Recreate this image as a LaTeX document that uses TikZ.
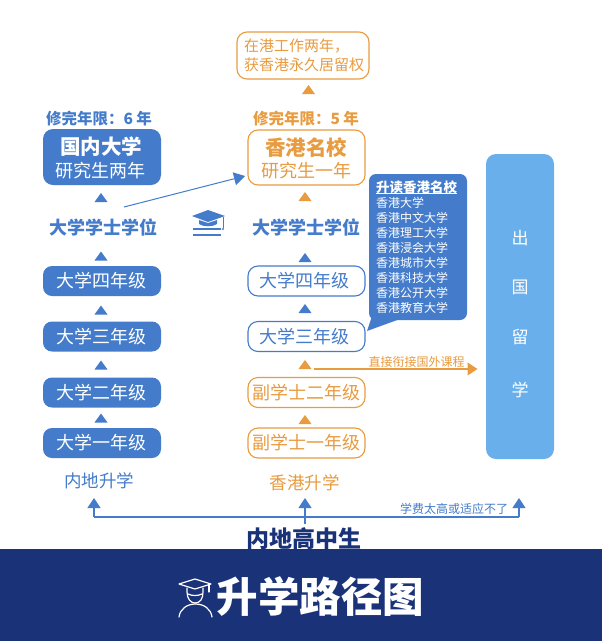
\documentclass[tikz,border=0pt]{standalone}
\usepackage{fontspec}
\setmainfont{Noto Sans CJK SC}
\definecolor{cblue}{HTML}{447CCB}
\definecolor{corange}{HTML}{E99B3F}
\definecolor{cnavy}{HTML}{1A3278}
\definecolor{csky}{HTML}{69AFEB}
\newcommand{\fs}[1]{\fontsize{#1}{#1}\selectfont}
\usetikzlibrary{arrows.meta}
\tikzset{
  every node/.style={inner sep=0pt,outer sep=0pt},
  filledbox/.style={fill=cblue,rounded corners=9pt,minimum width=118pt,minimum height=30pt},
  filledtext/.style={text=white,font=\fs{18}},
  outlinebox/.style={draw=cblue,line width=1.1pt,fill=white,rounded corners=10pt,minimum width=117pt,minimum height=30pt},
  orangebox/.style={draw=corange,line width=1.1pt,fill=white,rounded corners=10pt,minimum width=117pt,minimum height=30pt},
  bluetext/.style={text=cblue,font=\fs{18}},
  orangetext/.style={text=corange,font=\fs{18}},
  headblue/.style={text=cblue,font=\fs{18}\bfseries},
  limitlabel/.style={font=\fs{15.5}\bfseries},
  tri/.pic={\fill[pic actions] (-6.5,4.5) -- (0,-4.5) -- (6.5,4.5) -- cycle;},
  blueline/.style={draw=cblue,line width=1.3pt},
  flatarrow/.style={-{Triangle[width=13pt,length=10pt]}},
  listitem/.style={anchor=west,text=white,font=\fs{12}},
  wordsky/.style={text=white,font=\fs{17}}
}
\begin{document}
\begin{tikzpicture}[x=1pt,y=-1pt]
\useasboundingbox (0,0) rectangle (602,641);
\fill[white] (0,0) rectangle (602,641);

% title text behind the band
\node[text=cnavy,font=\fs{23}\bfseries] (gz) at (303.5,539) {内地高中生};
\fill[cnavy] (0,549) rectangle (602,641);
\node[text=white,font=\fs{41.5}\bfseries] (title) at (320.5,596.5) {升学路径图};

% student icon
\begin{scope}[draw=white,line width=1.2pt,line cap=round,line join=round]
  \draw (179,584) -- (195,579) -- (211,584) -- (195,589) -- cycle;
  \draw (209,585) -- (209,592);
  \draw (187,588) -- (187,592) .. controls (187,599) and (191,603) .. (195,603) .. controls (200,603) and (203,599) .. (203,592) -- (203,588);
  \draw (188,594) .. controls (192,596) and (198,596) .. (202,594);
  \draw (179,617) .. controls (180,609) and (187,604) .. (195.5,604) .. controls (204,604) and (211,609) .. (212,617);
\end{scope}

% left column
\node[limitlabel,text=cblue] (llimit) at (99,119) {修完年限：6 年};
\node[fill=cblue,rounded corners=10pt,minimum width=118pt,minimum height=56pt] (lgrad) at (102,157) {};
\node[text=white,font=\fs{20.5}\bfseries] (lgrad1) at (101,147) {国内大学};
\node[text=white,font=\fs{18}] (lgrad2) at (101,171) {研究生两年};
\node[headblue] (ldeg) at (103,227) {大学学士学位};
\node[filledbox] (l4) at (102,281) {};
\node[filledtext] (l4t) at (101.5,281) {大学四年级};
\node[filledbox] (l3) at (102,336.5) {};
\node[filledtext] (l3t) at (101.5,336.5) {大学三年级};
\node[filledbox] (l2) at (102,392.5) {};
\node[filledtext] (l2t) at (101.5,392.5) {大学二年级};
\node[filledbox] (l1) at (102,443) {};
\node[filledtext] (l1t) at (101.5,443) {大学一年级};
\node[text=cblue,font=\fs{17.5}] (lroute) at (99,481) {内地升学};
\pic[fill=cblue] at (101,197.5) {tri};
\pic[fill=cblue] at (101,256) {tri};
\pic[fill=cblue] at (101,310) {tri};
\pic[fill=cblue] at (101,365) {tri};
\pic[fill=cblue] at (101,418) {tri};

% middle column
\node[orangebox,minimum width=132pt,minimum height=47pt] (pr) at (303,55.5) {};
\node[anchor=west,text=corange,font=\fs{15}] (pr1) at (244,46) {在港工作两年，};
\node[text=corange,font=\fs{15}] (pr2) at (304,65) {获香港永久居留权};
\node[limitlabel,text=corange] (rlimit) at (306,119) {修完年限：5 年};
\node[orangebox,minimum height=55pt,minimum width=117pt] (rgrad) at (306.5,157.5) {};
\node[text=corange,font=\fs{20.5}\bfseries] (rgrad1) at (306,148) {香港名校};
\node[text=corange,font=\fs{18}] (rgrad2) at (306,171) {研究生一年};
\node[headblue] (rdeg) at (306,227) {大学学士学位};
\node[outlinebox] (r4) at (306.5,281) {};
\node[bluetext] (r4t) at (304,281) {大学四年级};
\node[outlinebox] (r3) at (306.5,336.5) {};
\node[bluetext] (r3t) at (304,336.5) {大学三年级};
\node[orangebox] (a2) at (306.5,392.5) {};
\node[orangetext] (a2t) at (306,392.5) {副学士二年级};
\node[orangebox] (a1) at (306.5,443) {};
\node[orangetext] (a1t) at (306,443) {副学士一年级};
\node[text=corange,font=\fs{17.5}] (rroute) at (304.5,483) {香港升学};
\pic[fill=corange] at (308.5,89.5) {tri};
\pic[fill=corange] at (305,196.5) {tri};
\pic[fill=cblue] at (305,257.5) {tri};
\pic[fill=cblue] at (305,308.5) {tri};
\pic[fill=corange] at (305,364.5) {tri};
\pic[fill=corange] at (305,419.5) {tri};

% callout
\fill[cblue] (372,316) -- (367,331) -- (400,319) -- cycle;
\node[fill=cblue,rounded corners=7pt,minimum width=98pt,minimum height=146pt] (call) at (418,247) {};
\node[anchor=west,text=white,font=\fs{13.5}\bfseries] (callhead) at (376,187.5) {升读香港名校};
\draw[white,line width=.9pt] (376,193.8) -- (457,193.8);
\node[listitem] (u1) at (376,203) {香港大学};
\node[listitem] (u2) at (376,218) {香港中文大学};
\node[listitem] (u3) at (376,233) {香港理工大学};
\node[listitem] (u4) at (376,248) {香港浸会大学};
\node[listitem] (u5) at (376,263) {香港城市大学};
\node[listitem] (u6) at (376,278) {香港科技大学};
\node[listitem] (u7) at (376,293) {香港公开大学};
\node[listitem] (u8) at (376,308) {香港教育大学};

% abroad column
\node[fill=csky,rounded corners=10pt,minimum width=68pt,minimum height=305pt] (abroad) at (520,306.5) {};
\node[wordsky] (w1) at (520,238) {出};
\node[wordsky] (w2) at (520,287) {国};
\node[wordsky] (w3) at (520,337) {留};
\node[wordsky] (w4) at (520,390) {学};

% orange connector to abroad
\coordinate (ostart) at (314,369);
\coordinate (oend) at (477.5,369);
\draw[corange,line width=1.2pt,flatarrow] (ostart) -- (oend);
\node[text=corange,font=\fs{12}] (olabel) at (416.5,362) {直接衔接国外课程};

% diagonal connector
\coordinate (dstart) at (124,207);
\coordinate (dend) at (245,176);
\draw[cblue,line width=1pt,-{Triangle[width=13pt,length=11pt]}] (dstart) -- (dend);

% cap icon
\fill[cblue] (192,216) -- (208,210) -- (225,216) -- (208,222) -- cycle;
\fill[cblue] (199,220) -- (208,223) -- (217,220) -- (217,224) .. controls (213,227) and (203,227) .. (199,224) -- cycle;
\draw[cblue,line width=.7pt] (223,217) -- (223,228);
\fill[cblue] (223,229) circle (1.2pt);
\draw[cblue,line width=1.1pt] (193,229) -- (221,229) (193,235) -- (221,235);

% bottom connectors
\coordinate (bl) at (94,498);
\coordinate (bm) at (305,498);
\coordinate (br) at (519,498);
\coordinate (bs) at (305,524);
\coordinate (jl) at (94,517);
\coordinate (jr) at (519,517);
\draw[blueline] (jl) -- (jr);
\draw[blueline,flatarrow] (jl) -- (bl);
\draw[blueline,flatarrow] (bs) -- (bm);
\draw[blueline,flatarrow] (jr) -- (br);
\node[text=cblue,font=\fs{12}] (fee) at (454,509) {学费太高或适应不了};
\end{tikzpicture}
\end{document}
